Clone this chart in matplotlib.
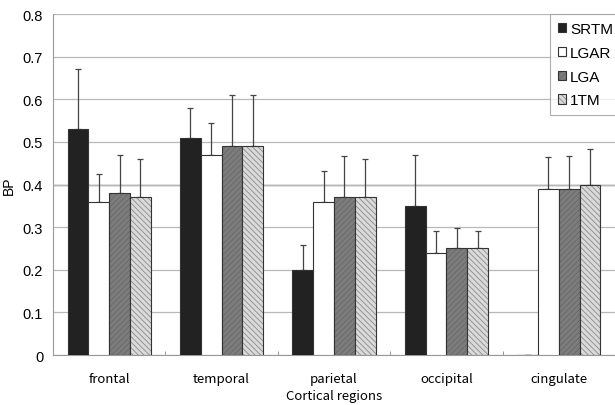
import numpy as np
import matplotlib.pyplot as plt
from matplotlib.colors import to_rgba
from matplotlib.ticker import MultipleLocator, FuncFormatter

plt.rcParams['hatch.linewidth'] = 0.6
plt.rcParams['font.family'] = ['Liberation Sans', 'DejaVu Sans']

# Binding potential per cortical region, one array per method
regions = ['frontal', 'temporal', 'parietal', 'occipital', 'cingulate']
methods = ['SRTM', 'LGAR', 'LGA', '1TM']

srtm = [0.53, 0.51, 0.20, 0.35, 0.0]
lgar = [0.36, 0.47, 0.36, 0.24, 0.39]
lga = [0.38, 0.49, 0.37, 0.25, 0.39]
tm1 = [0.37, 0.49, 0.37, 0.25, 0.40]

srtm_sd = [0.14, 0.07, 0.058, 0.12, 0.0]
lgar_sd = [0.065, 0.075, 0.072, 0.05, 0.075]
lga_sd = [0.09, 0.12, 0.097, 0.047, 0.078]
tm1_sd = [0.09, 0.12, 0.09, 0.04, 0.083]

values = [srtm, lgar, lga, tm1]
errors = [srtm_sd, lgar_sd, lga_sd, tm1_sd]
colors = ['#222222', 'white', '#7c7c7c', '#dadada']
hatches = [None, None, '//////', '\\\\\\\\\\\\']
hatch_colors = ['#222222', '#ffffff', '#686868', '#8a8a8a']

fig = plt.figure(figsize=(6.15, 4.06), dpi=100)
ax = fig.add_axes([0.086, 0.123, 0.914, 0.84])

x = np.arange(len(regions))
w = 0.185
for i, (vals, errs) in enumerate(zip(values, errors)):
    pos = x + (i - 1.5) * w
    bars = ax.bar(pos, vals, w, color=colors[i], edgecolor='#333333', linewidth=0.8,
                  hatch=hatches[i], label=methods[i], zorder=3)
    # lighter hatch lines than the bar outline
    for b in bars:
        b._hatch_color = to_rgba(hatch_colors[i])
    ax.errorbar(pos, vals, yerr=[np.zeros(len(errs)), errs], fmt='none',
                ecolor='#444444', elinewidth=0.9, capsize=2.5, capthick=0.9, zorder=2)

ax.set_xlim(-0.5, len(regions) - 0.5)
ax.set_ylim(0, 0.8)
ax.yaxis.set_major_locator(MultipleLocator(0.1))
ax.yaxis.set_major_formatter(FuncFormatter(lambda v, p: '0' if abs(v) < 1e-9 else f'{v:.1f}'))
ax.grid(axis='y', color='#b8b8b8', linewidth=0.9, zorder=0)
ax.axhline(0.4, color='#333333', linewidth=0.9, zorder=1)

ax.set_xticks(x)
ax.set_xticklabels(regions, fontsize=9.5, family=['Noto Sans CJK JP', 'DejaVu Sans'])
ax.set_xticks(np.arange(len(regions) + 1) - 0.5, minor=True)
ax.tick_params(axis='x', which='major', length=0, pad=12)
ax.tick_params(axis='x', which='minor', direction='in', length=3, color='#888888')
ax.tick_params(axis='y', length=0, labelsize=10.5, pad=7)

for s in ['top', 'right']:
    ax.spines[s].set_visible(False)
ax.spines['left'].set_color('#999999')
ax.spines['bottom'].set_color('#999999')

ax.set_ylabel('BP', fontsize=10, labelpad=5)
ax.set_xlabel('Cortical regions', fontsize=9.5, labelpad=3,
              family=['Noto Sans CJK JP', 'DejaVu Sans'])

leg = ax.legend(loc='upper right', bbox_to_anchor=(1.01, 1.0), borderaxespad=0,
                fontsize=11, frameon=True, fancybox=False, edgecolor='#999999',
                handlelength=0.55, handleheight=0.55, handletextpad=0.25,
                labelspacing=0.65, borderpad=0.5)
leg.get_frame().set_linewidth(0.8)
for h, hc in zip(leg.get_patches(), hatch_colors):
    h._hatch_color = to_rgba(hc)

fig.savefig('out.png', dpi=100)
